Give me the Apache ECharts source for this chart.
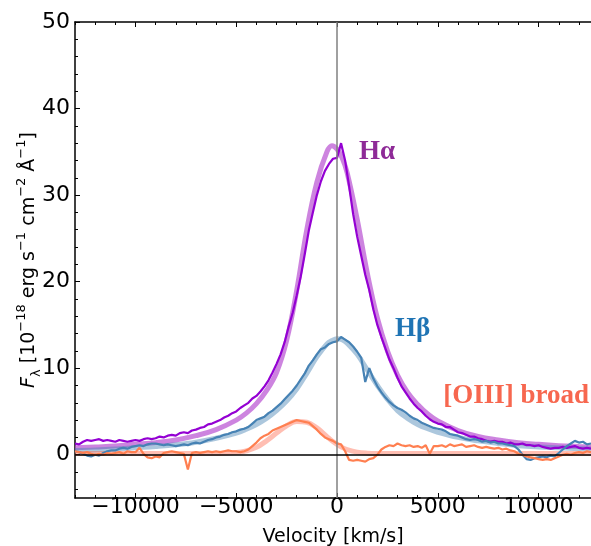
<!DOCTYPE html>
<html><head><meta charset="utf-8">
<script src="https://cdn.jsdelivr.net/npm/echarts@6/dist/echarts.min.js"></script>
<style>html,body{margin:0;padding:0;background:#fff}#c{width:591px;height:546px}</style>
</head><body><div id="c"></div>
<script>
// ---- data ----
const velocity = [
-13000,-12800,-12600,-12400,-12200,-12000,-11800,-11600,-11400,-11200,
-11000,-10800,-10600,-10400,-10200,-10000,-9800,-9600,-9400,-9200,
-9000,-8800,-8600,-8400,-8200,-8000,-7800,-7600,-7400,-7200,
-7000,-6800,-6600,-6400,-6200,-6000,-5800,-5600,-5400,-5200,
-5000,-4800,-4600,-4400,-4200,-4000,-3800,-3600,-3400,-3200,
-3000,-2800,-2600,-2400,-2200,-2000,-1800,-1600,-1400,-1200,
-1000,-800,-600,-400,-200,0,200,400,600,800,
1000,1200,1400,1600,1800,2000,2200,2400,2600,2800,
3000,3200,3400,3600,3800,4000,4200,4400,4600,4800,
5000,5200,5400,5600,5800,6000,6200,6400,6600,6800,
7000,7200,7400,7600,7800,8000,8200,8400,8600,8800,
9000,9200,9400,9600,9800,10000,10200,10400,10600,10800,
11000,11200,11400,11600,11800,12000,12200,12400,12600];

const haObs = [
1.3,1.2,1.5,1.7,1.6,1.7,1.8,1.6,1.7,1.6,
1.5,1.7,1.6,1.5,1.6,1.7,1.6,1.8,1.9,1.8,
1.9,2.1,2.0,2.2,2.3,2.2,2.5,2.6,2.5,2.8,
2.9,3.1,3.2,3.5,3.6,3.8,4.0,4.3,4.5,4.8,
5.0,5.4,5.7,6.0,6.5,6.8,7.3,7.9,8.6,9.5,
10.5,11.6,13.0,14.8,16.4,18.4,20.6,23.2,25.9,28.0,
30.0,31.6,32.8,33.6,34.2,34.3,36.0,34.0,31.0,27.8,
25.2,23.0,20.8,19.0,16.8,15.0,13.6,12.3,11.0,10.0,
8.9,7.9,7.2,6.5,5.9,5.4,5.0,4.5,4.1,3.8,
3.6,3.5,3.2,3.2,2.9,2.6,2.5,2.3,2.1,2.1,
1.9,1.8,1.6,1.5,1.6,1.5,1.5,1.3,1.4,1.2,
1.2,1.3,1.1,1.1,1.0,1.1,0.9,0.8,0.7,0.8,
0.8,0.9,0.8,0.9,1.0,0.8,0.7,0.8,0.7];

const hbObs = [
0.4,0.3,0.1,-0.1,-0.2,0.0,-0.1,0.2,0.4,0.5,
0.5,0.7,0.8,0.7,0.9,1.0,1.1,1.0,1.2,1.3,
1.3,1.2,1.1,1.2,1.1,1.0,1.1,1.2,1.1,1.3,
1.4,1.3,1.5,1.7,1.8,2.0,2.1,2.3,2.4,2.6,
2.7,2.9,3.0,3.2,3.6,4.0,4.2,4.4,4.8,5.1,
5.5,5.9,6.4,6.9,7.4,8.0,8.7,9.4,10.3,10.9,
11.6,12.2,12.4,12.8,13.0,13.1,13.6,13.3,13.0,12.5,
11.9,11.2,8.4,10.0,8.8,7.9,7.2,6.6,6.1,5.7,
5.4,5.2,4.9,4.5,4.2,4.0,3.7,3.5,3.3,3.1,
3.0,2.9,2.7,2.4,2.3,2.2,2.0,1.8,1.7,1.8,
1.7,1.5,1.6,1.4,1.5,1.3,1.3,1.2,1.1,1.0,
0.6,0.0,-0.5,-0.6,-0.4,-0.3,-0.2,-0.3,-0.1,-0.2,
0.2,0.6,1.0,1.3,1.6,1.4,1.5,1.2,1.3];

const o3Obs = [
0.4,0.3,0.2,0.3,0.1,0.0,0.1,0.0,0.2,0.1,
0.2,0.3,0.1,0.4,0.3,0.3,0.8,0.1,-0.3,-0.4,
-0.2,-0.3,0.2,0.3,0.4,0.3,0.2,0.1,-1.7,0.2,
0.3,0.2,0.3,0.4,0.3,0.4,0.3,0.4,0.5,0.4,
0.4,0.3,0.4,0.6,1.0,1.4,1.9,2.2,2.4,2.8,
3.0,3.2,3.4,3.6,3.8,4.0,3.9,3.8,3.7,3.3,
2.9,2.4,2.0,1.8,1.6,1.3,1.2,0.4,-0.6,-0.7,
-0.6,-0.7,-0.8,-0.5,-0.4,0.0,0.6,0.9,1.1,1.0,
1.3,1.1,1.0,1.1,0.9,1.0,0.8,1.1,0.1,1.0,
1.0,1.1,0.9,1.2,1.0,1.1,1.2,0.9,1.0,1.1,
0.9,0.8,0.9,0.8,0.7,0.8,0.6,0.7,0.5,0.4,
0.1,0.0,-0.2,-0.3,-0.4,-0.5,-0.6,-0.5,-0.6,-0.4,
-0.2,0.0,0.1,0.0,0.2,0.3,0.2,0.4,0.3];

const modelVelocity = [-13000,-12000,-11000,-10000,-9000,-8000,-7000,-6000,-5000,-4500,
-4000,-3500,-3000,-2500,-2000,-1500,-1000,-500,-250,0,250,500,1000,1500,2000,2500,
3000,3500,4000,4500,5000,6000,7000,8000,9000,10000,11000,12000,12600];
const haModel = [0.8,0.9,1.0,1.2,1.4,1.7,2.2,2.9,4.0,4.8,
5.9,7.4,9.5,13.2,19.0,26.0,31.5,35.0,35.7,35.3,34.3,32.6,27.2,21.0,15.8,12.0,
9.2,7.2,5.8,4.7,3.9,2.8,2.1,1.7,1.4,1.2,1.05,0.95,0.9];
const hbModel = [0.5,0.55,0.65,0.8,0.95,1.15,1.45,1.9,2.5,2.95,
3.5,4.2,5.1,6.2,7.6,9.4,11.3,12.8,13.2,13.4,13.3,12.9,11.6,9.8,8.0,6.4,
5.1,4.2,3.5,3.0,2.6,2.0,1.6,1.3,1.05,0.9,0.8,0.7,0.65];
const o3Model = [0.15,0.15,0.15,0.15,0.15,0.15,0.15,0.15,0.25,0.45,
0.85,1.6,2.5,3.35,3.85,3.75,3.1,2.1,1.6,1.2,0.85,0.6,0.3,0.18,0.15,0.15,
0.15,0.15,0.15,0.15,0.15,0.15,0.15,0.15,0.15,0.15,0.15,0.15,0.15];

const xMajorTicks = [-10000,-5000,0,5000,10000];
const xMinorTicks = [-13000,-12000,-11000,-9000,-8000,-7000,-6000,-4000,-3000,-2000,-1000,
1000,2000,3000,4000,6000,7000,8000,9000,11000,12000];
const yMajorTicks = [0,10,20,30,40,50];
const yMinorTicks = [-4,-2,2,4,6,8,12,14,16,18,22,24,26,28,32,34,36,38,42,44,46,48];

const lineLabels = ['Hα','Hβ','[OIII] broad'];
// annotation anchor positions (data space), kept apart from data arrays
const labelAnchors = [[1985,35.0],[3746,14.5],[8881,6.8]];
const labelColors = ['#8e2a97','#1f74b4','#f7674f'];

// ---- chart ----
const pair = (xs, ys) => xs.map((x, i) => [x, ys[i]]);
const minus = v => String(v).replace('-', '\u2212');
const XMIN = -13000, XMAX = 12600, YMIN = -5, YMAX = 50;
const FONT = 'DejaVu Sans';
const axisLineStyle = {color:'#000', width:1.5};

function xAx(pos, ticks, len, showLine, showLabel, extra) {
  return Object.assign({
    type:'value', position:pos, min:XMIN, max:XMAX, gridIndex:0,
    axisLine:{show:showLine, onZero:false, lineStyle:axisLineStyle},
    axisTick:{show:true, inside:true, length:len, customValues:ticks, lineStyle:{color:'#000', width:1}},
    axisLabel:{show:showLabel, customValues:ticks, formatter:minus, color:'#000', fontFamily:FONT, fontSize:22, margin:-2},
    splitLine:{show:false}
  }, extra || {});
}
function yAx(ticks, len, showLine, showLabel, extra) {
  return Object.assign({
    type:'value', position:'left', min:YMIN, max:YMAX, gridIndex:0,
    axisLine:{show:showLine, onZero:false, lineStyle:axisLineStyle},
    axisTick:{show:true, inside:true, length:len, customValues:ticks, lineStyle:{color:'#000', width:1}},
    axisLabel:{show:showLabel, customValues:ticks, formatter:minus, color:'#000', fontFamily:FONT, fontSize:22, margin:5},
    splitLine:{show:false}
  }, extra || {});
}

const chart = echarts.init(document.getElementById('c'), null, {renderer:'canvas'});
const modelLine = (data, color) => ({
  type:'line', data, xAxisIndex:0, yAxisIndex:0, showSymbol:false, smooth:0.4,
  lineStyle:{color, width:5}, silent:true, z:2
});
const obsLine = (data, color) => ({
  type:'line', data, xAxisIndex:0, yAxisIndex:0, showSymbol:false,
  lineStyle:{color, width:2.2}, silent:true, z:4
});

chart.setOption({
  animation:false,
  backgroundColor:'#fff',
  grid:{left:75, right:0, top:22, bottom:48, containLabel:false, outerBoundsMode:'none'},
  xAxis:[
    xAx('bottom', xMajorTicks, 5, true, true, {
      name:'Velocity [km/s]', nameLocation:'middle', nameGap:30, nameMoveOverlap:false,
      nameTextStyle:{fontFamily:FONT, fontSize:19, color:'#000'}
    }),
    xAx('top', xMajorTicks, 5, true, false),
    xAx('bottom', xMinorTicks, 3, false, false),
    xAx('top', xMinorTicks, 3, false, false)
  ],
  yAxis:[
    yAx(yMajorTicks, 5, true, true, {
      name:'{i|F}{sub|λ}{n| [10}{sup|−18}{n| erg s}{sup|−1}{n| cm}{sup|−2}{n| Å}{sup|−1}{n|]}',
      nameLocation:'middle', nameGap:32, nameRotate:90, nameMoveOverlap:false,
      nameTextStyle:{fontFamily:FONT, fontSize:19, color:'#000', rich:{
        i:{fontFamily:FONT, fontSize:19, fontStyle:'italic', lineHeight:28, color:'#000'},
        n:{fontFamily:FONT, fontSize:19, lineHeight:28, color:'#000'},
        sup:{fontFamily:FONT, fontSize:13, lineHeight:15, verticalAlign:'top', color:'#000'},
        sub:{fontFamily:FONT, fontSize:13, lineHeight:15, verticalAlign:'bottom', color:'#000'}
      }}
    }),
    yAx(yMinorTicks, 3, false, false)
  ],
  series:[
    modelLine(pair(modelVelocity, haModel), 'rgba(186,85,211,0.72)'),
    modelLine(pair(modelVelocity, hbModel), 'rgba(70,130,180,0.45)'),
    modelLine(pair(modelVelocity, o3Model), 'rgba(255,99,71,0.42)'),
    {
      type:'line', data:[], xAxisIndex:0, yAxisIndex:0, silent:true, z:3,
      markLine:{silent:true, symbol:['none','none'], label:{show:false}, animation:false,
        data:[
          {xAxis:0, lineStyle:{color:'#808080', width:1.5, type:'solid'}},
          {yAxis:0, lineStyle:{color:'#000', width:1.5, type:'solid'}}
        ]}
    },
    obsLine(pair(velocity, haObs), '#9400d3'),
    obsLine(pair(velocity, hbObs), '#4682b4'),
    obsLine(pair(velocity, o3Obs), '#ff7f50'),
    {
      type:'scatter', xAxisIndex:0, yAxisIndex:0, symbolSize:0, silent:true, z:6,
      itemStyle:{opacity:1},
      data: lineLabels.map((t, i) => ({
        value: labelAnchors[i],
        itemStyle:{opacity:1},
        label:{show:true, position:'inside', formatter:t, color:labelColors[i], opacity:1,
          fontFamily:'Liberation Serif', fontWeight:'bold', fontSize:27}
      }))
    }
  ]
});
</script></body></html>
